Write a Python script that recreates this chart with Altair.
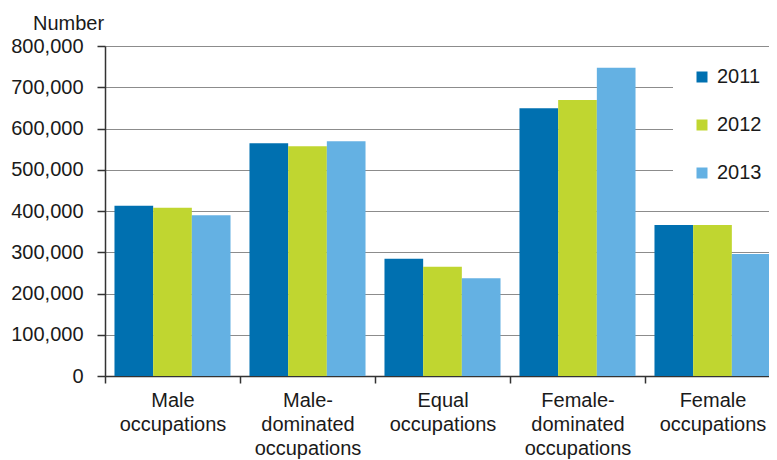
import altair as alt
import pandas as pd

categories = ["Male|occupations", "Male-|dominated|occupations", "Equal|occupations",
              "Female-|dominated|occupations", "Female|occupations"]
years = ["2011", "2012", "2013"]
values_2011 = [413000, 564000, 284000, 649000, 366000]
values_2012 = [408000, 557000, 265000, 669000, 366000]
values_2013 = [390000, 569000, 237000, 747000, 296000]
colors = ["#0070b0", "#c0d630", "#64b1e3"]
y_ticks = [0, 100000, 200000, 300000, 400000, 500000, 600000, 700000, 800000]

rows = []
for yr, vals in zip(years, [values_2011, values_2012, values_2013]):
    for c, v in zip(categories, vals):
        rows.append({"category": c, "year": yr, "value": v})
df = pd.DataFrame(rows)

FONT = "Liberation Sans"
FS = 20

chart = alt.Chart(df).mark_bar().encode(
    x=alt.X("category:N", sort=categories, title=None,
            scale=alt.Scale(paddingInner=0, paddingOuter=0),
            axis=alt.Axis(labelExpr="split(datum.label, '|')", labelAngle=0,
                          labelFont=FONT, labelFontSize=FS, labelColor="#1a1a1a",
                          labelLineHeight=24, labelBaseline="top", labelPadding=7,
                          tickBand="extent", tickSize=7, tickColor="#333333", tickWidth=1.5,
                          domainColor="#333333", domainWidth=1.5, grid=False)),
    xOffset=alt.XOffset("year:N", sort=years,
                        scale=alt.Scale(paddingInner=0, paddingOuter=0.245)),
    y=alt.Y("value:Q", title="Number",
            scale=alt.Scale(domain=[0, 800000], nice=False),
            axis=alt.Axis(values=y_ticks, format=",d", labelFont=FONT, labelFontSize=FS,
                          labelColor="#1a1a1a", tickSize=8, tickColor="#333333", tickWidth=1.5,
                          labelPadding=14, domainColor="#333333", domainWidth=1.5,
                          gridColor="#8c8c8c", gridWidth=1.2,
                          titleAngle=0, titleAlign="center", titleBaseline="alphabetic",
                          titleX=-37, titleY=-17, titleFont=FONT, titleFontSize=FS,
                          titleFontWeight="normal", titleColor="#1a1a1a")),
    color=alt.Color("year:N", sort=years,
                    scale=alt.Scale(domain=years, range=colors),
                    legend=alt.Legend(title=None, orient="none", legendX=568, legendY=2,
                                      fillColor="white", padding=19, symbolType="square",
                                      symbolSize=121, symbolStrokeWidth=0, labelFont=FONT,
                                      labelFontSize=FS, labelColor="#1a1a1a", labelOffset=5,
                                      rowPadding=28)),
).properties(
    width=675, height=330,
    autosize=alt.AutoSizeParams(type="none"),
    padding={"left": 97, "top": 38, "right": -11, "bottom": 84},
).configure_view(stroke=None).configure(background="white")

chart.save("out.html", embed_options={"renderer": "svg", "actions": False})
